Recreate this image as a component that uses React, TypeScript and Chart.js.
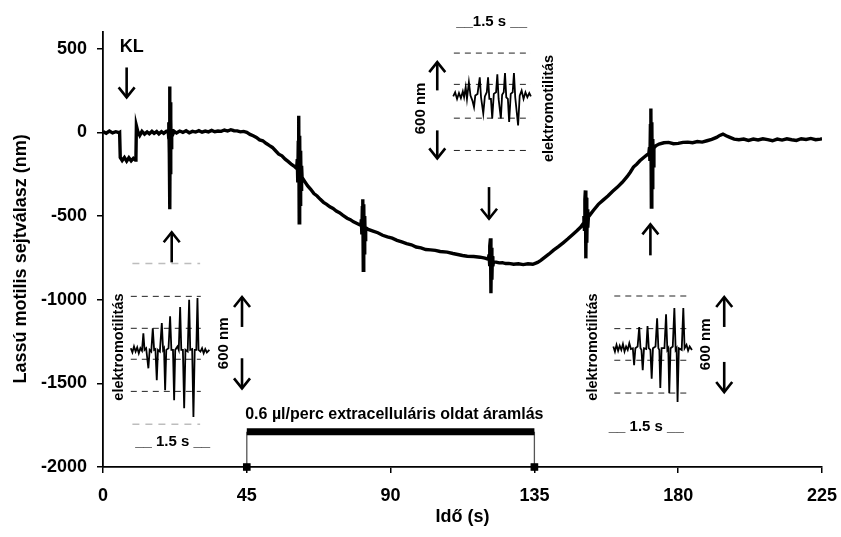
import React, { useEffect, useRef } from "react";
import { Chart, registerables } from "chart.js";

Chart.register(...registerables);

const FONT = '"Liberation Sans", Arial, Helvetica, sans-serif';

// Axis ticks and titles
const xTickValues = [0, 45, 90, 135, 180, 225];
const yTickValues = [-2000, -1500, -1000, -500, 0, 500];
const xTitle = "Idő (s)";
const yTitle = "Lassú motilis sejtválasz (nm)";

// Main slow-motility trace: [time (s), displacement (nm)]
const mainTrace: [number, number][] = [
  [0, 5], [1, -5], [2, 8], [3, -3], [4, 4], [5, -2], [5.2, 0], [5.4, -150],
  [6, -168], [6.7, -150], [7.4, -172], [8.1, -152], [8.8, -170], [9.5, -155], [10.1, -165], [10.3, -158],
  [10.45, 40], [10.9, 5], [11.5, -18], [12.2, 6], [13, -10], [13.8, 3], [14.5, -8], [15.3, 6],
  [16, -6], [16.8, 5], [17.5, -9], [18.3, 4], [19, -6], [19.8, 6],
  [20.4, 10], [20.55, -40], [20.65, 60], [20.75, -120], [20.85, 275], [20.95, -460], [21.05, 180],
  [21.15, -250], [21.25, 80], [21.35, -90], [21.5, 20], [21.65, -20],
  [22.3, 6], [23, -4], [24, 8], [25, 0], [26, 10], [27, -2], [28, 6], [29, 2], [30, 10], [31, 1],
  [32, 8], [33, 3], [34, 12], [35, 4], [36, 8], [37, 6], [38, 14], [39, 8], [40, 16], [41, 10],
  [42, 9], [43, 3], [44, 6], [45, 0], [46, -12], [47, -20], [48, -30], [49, -45], [50, -50],
  [51, -65], [52, -78], [53, -90], [54, -110], [55, -130], [56, -140], [57, -160], [58, -175],
  [59, -192], [60, -205],
  [60.6, -215], [60.8, -160], [60.95, -300], [61.1, -60], [61.25, 100], [61.4, -540], [61.55, -20],
  [61.7, -430], [61.85, -110], [62.0, -340], [62.15, -200], [62.3, -270],
  [63, -290], [64, -318], [65, -340], [66, -366], [67, -380], [68, -400], [69, -418], [70, -430],
  [71, -445], [72, -455], [73, -470], [74, -480], [75, -495], [76.4, -513], [77.4, -522],
  [78.4, -535], [79.5, -545],
  [80.7, -556], [80.85, -520], [81.0, -610], [81.15, -450], [81.3, -400], [81.45, -824], [81.6, -430],
  [81.75, -720], [81.9, -500], [82.05, -640], [82.2, -570],
  [83, -580], [84.5, -590], [86, -600], [87.5, -615], [89, -625], [90.5, -632], [92, -645],
  [93.5, -655], [95, -665], [96.5, -672], [98, -685], [99.5, -690], [101, -700], [102.5, -702],
  [104, -705], [105.5, -712], [107.7, -716], [109.5, -724], [111, -730], [112.5, -736], [114, -740],
  [116, -742], [118, -746], [119.5, -752],
  [120.6, -758], [120.8, -730], [120.95, -800], [121.1, -680], [121.25, -633], [121.4, -961],
  [121.55, -690], [121.7, -880], [121.85, -740], [122.0, -800], [122.2, -772],
  [123, -775], [124, -780], [125, -779], [126, -784], [127, -783], [128.5, -788], [130, -785],
  [131.5, -790], [133, -785], [134.5, -788], [136, -777], [137, -765], [138, -750], [139.5, -728],
  [141, -704], [142.5, -683], [144, -660], [145.5, -636], [147, -610], [148.3, -588], [149.5, -566],
  [150.3, -545], [150.5, -500], [150.65, -580], [150.8, -400], [150.95, -347], [151.1, -753],
  [151.25, -390], [151.4, -660], [151.55, -460], [151.7, -570], [151.9, -505],
  [152.5, -490], [153.5, -465], [155, -430], [156.5, -405], [158, -380], [159.5, -352], [161, -327],
  [162.5, -298], [164, -265], [165, -238], [166, -207], [167, -190], [168, -170], [169.2, -150],
  [170.2, -135],
  [170.8, -128], [171.0, -90], [171.15, -170], [171.3, 40], [171.45, 143], [171.6, -447],
  [171.75, 60], [171.9, -330], [172.05, -40], [172.2, -200], [172.4, -95],
  [173, -80], [174, -70], [175.5, -62], [177, -60], [178.5, -68], [180, -66], [181.5, -60],
  [183, -58], [184.5, -62], [186, -55], [187.5, -58], [189, -50], [190.5, -42], [192, -30],
  [193, -18], [194, -10], [195, -20], [196, -28], [197.5, -40], [199, -44], [200.5, -40],
  [202, -48], [203.5, -40], [205, -45], [206.5, -38], [208, -43], [209.5, -50], [211, -40],
  [212.5, -46], [214, -38], [215.5, -44], [217, -48], [218.5, -38], [220, -42], [221.5, -36],
  [223, -44], [224.5, -40], [225, -38],
];

// Inset recordings (electromotility), placed in the chart's own units
const insetLeft: [number, number][] = [
  [8.7, -1290], [9.2, -1315], [9.7, -1280], [10.2, -1310], [10.7, -1285], [11.2, -1320], [11.7, -1290],
  [12.2, -1305], [12.63, -1201], [13.0, -1300], [13.5, -1290], [14.2, -1410], [14.6, -1300],
  [15.1, -1310], [15.58, -1171], [16.0, -1300], [16.4, -1295], [16.83, -1482], [17.2, -1300],
  [17.8, -1310], [18.4, -1139], [18.8, -1300], [19.1, -1290], [19.44, -1541], [19.8, -1300],
  [20.5, -1290], [21.0, -1099], [21.4, -1300], [21.9, -1300], [22.26, -1601], [22.6, -1300],
  [23.3, -1280], [23.7, -1300], [24.14, -1044], [24.5, -1300], [25.0, -1300], [25.4, -1649],
  [25.8, -1300], [26.5, -1310], [26.96, -1000], [27.3, -1300], [27.9, -1295], [28.3, -1701],
  [28.7, -1300], [29.2, -1300], [29.56, -990], [29.9, -1300], [30.5, -1310], [31, -1290],
  [31.5, -1320], [32, -1295], [32.5, -1315], [33.3, -1300],
];
const insetTop: [number, number][] = [
  [109.6, 215], [110.2, 240], [110.8, 200], [111.4, 235], [112, 205], [112.6, 245], [113.0, 210],
  [113.5, 270], [113.9, 200], [114.5, 300], [115, 220], [115.6, 190], [116.1, 151], [116.5, 220],
  [117.2, 230], [117.9, 329], [118.3, 210], [119.0, 113], [119.5, 215], [120.1, 240], [120.5, 329],
  [120.9, 200], [121.4, 200], [121.8, 84], [122.3, 230], [123.0, 240], [123.4, 347], [123.8, 200],
  [124.5, 84], [124.9, 225], [125.4, 240], [125.8, 354], [126.2, 210], [126.7, 200], [127.1, 62],
  [127.6, 230], [128.2, 240], [128.6, 354], [129.0, 210], [129.9, 42], [130.4, 220], [131, 250],
  [131.6, 200], [132.2, 240], [132.8, 210], [133.4, 235], [133.9, 215],
];
const insetRight: [number, number][] = [
  [159.7, -1280], [160.2, -1310], [160.7, -1270], [161.2, -1305], [161.7, -1275], [162.2, -1300],
  [162.7, -1265], [163.2, -1310], [163.7, -1280], [164.2, -1300], [164.7, -1260], [165.2, -1295],
  [165.8, -1290], [166.2, -1392], [166.6, -1290], [167.3, -1280], [167.8, -1163], [168.2, -1290],
  [168.5, -1300], [168.9, -1422], [169.3, -1290], [170.0, -1295], [170.4, -1157], [170.8, -1290],
  [171.3, -1300], [171.7, -1472], [172.1, -1290], [172.9, -1280], [173.4, -1111], [173.8, -1290],
  [174.1, -1300], [174.4, -1528], [174.8, -1290], [175.7, -1290], [176.2, -1087], [176.6, -1300],
  [176.9, -1290], [177.2, -1559], [177.6, -1290], [178.3, -1280], [178.8, -1050], [179.2, -1300],
  [179.5, -1290], [179.8, -1611], [180.2, -1290], [181.1, -1300], [181.6, -1050], [182, -1290],
  [182.6, -1270], [183.1, -1305], [183.6, -1280], [184.3, -1300],
];

// Inset reference (dashed) levels and their time spans
const leftLevels = [-980, -1171, -1356, -1548];
const leftSpan = [8.7, 30.6];
const leftGreyLevels = [-783, -1745];
const leftGreySpan = [9.2, 30.4];
const topLevels = [474, 287, 85, -108];
const topSpan = [109.8, 133.9];
const rightLevels = [-978, -1173, -1362, -1558];
const rightSpan = [160, 184];

// Perfusion period
const flowStart = 45;
const flowEnd = 135;
const flowLevel = -1790;
const flowLabel = "0.6 \u00b5l/perc extracelluláris oldat áramlás";

const pts = (arr: [number, number][]) => arr.map(([x, y]) => ({ x, y }));

const hLine = (level: number, span: number[], color: string, width: number, dash: number[]) => ({
  data: [{ x: span[0], y: level }, { x: span[1], y: level }],
  borderColor: color,
  borderWidth: width,
  borderDash: dash,
  pointRadius: 0,
  fill: false,
  tension: 0,
  order: 5,
});

const annotations = {
  id: "annotations",
  afterDraw(chart: any) {
    const ctx = chart.ctx as CanvasRenderingContext2D;
    const X = (t: number) => chart.scales.x.getPixelForValue(t);
    const Y = (v: number) => chart.scales.y.getPixelForValue(v);
    ctx.save();
    ctx.fillStyle = "#000";
    ctx.strokeStyle = "#000";

    const arrow = (t: number, vTail: number, vTip: number) => {
      const x = X(t), yTail = Y(vTail), yTip = Y(vTip);
      ctx.lineWidth = 2.6;
      ctx.lineCap = "butt";
      ctx.beginPath();
      ctx.moveTo(x, yTail);
      ctx.lineTo(x, yTip);
      ctx.stroke();
      const dir = yTip > yTail ? -1 : 1;
      ctx.lineJoin = "miter";
      ctx.beginPath();
      ctx.moveTo(x - 8, yTip + dir * 10);
      ctx.lineTo(x, yTip);
      ctx.lineTo(x + 8, yTip + dir * 10);
      ctx.stroke();
    };
    const textAt = (s: string, x: number, y: number, size: number, rot = false, align: CanvasTextAlign = "center", base: CanvasTextBaseline = "middle") => {
      ctx.save();
      ctx.font = `bold ${size}px ${FONT}`;
      ctx.textAlign = align;
      ctx.textBaseline = base;
      ctx.translate(x, y);
      if (rot) ctx.rotate(-Math.PI / 2);
      ctx.fillText(s, 0, 0);
      ctx.restore();
    };
    const text = (s: string, t: number, v: number, size: number, rot = false, align: CanvasTextAlign = "center", base: CanvasTextBaseline = "middle") =>
      textAt(s, X(t), Y(v), size, rot, align, base);

    // y-axis title, centred on the labelled span of the axis
    textAt(yTitle, 26, (Y(-2000) + Y(500)) / 2 + 1, 18, true, "center", "alphabetic");

    text("KL", 9.0, 508, 18);
    arrow(7.4, 388, 209);
    arrow(21.5, -777, -597);
    arrow(120.8, -327, -516);
    arrow(171.3, -735, -550);

    // top inset
    arrow(104.6, 251, 420);
    arrow(104.6, 12, -155);
    text("600 nm", 99.6, 143, 15, true);
    text("elektromotilitás", 139.7, 143, 14.5, true);
    text("__1.5 s __", 121.6, 659, 15);

    // left inset
    arrow(43.5, -1163, -984);
    arrow(43.5, -1350, -1530);
    text("600 nm", 37.9, -1261, 15, true);
    text("elektromotilitás", 5.0, -1283, 14.5, true);
    text("__ 1.5 s __", 21.8, -1850, 15);

    // right inset
    arrow(194.4, -1163, -984);
    arrow(194.4, -1372, -1552);
    text("600 nm", 188.7, -1267, 15, true);
    text("elektromotilitás", 153.2, -1283, 14.5, true);
    text("__ 1.5 s __", 170.0, -1761, 15);

    text(flowLabel, 44.5, -1715, 16, false, "left", "alphabetic");
    ctx.restore();
  },
};

export default function App() {
  const ref = useRef<HTMLCanvasElement | null>(null);

  useEffect(() => {
    if (!ref.current) return;
    const tickFont = { family: FONT, size: 18, weight: "bold" as const };
    const datasets: any[] = [
      {
        data: pts(mainTrace),
        borderColor: "#000",
        borderWidth: 3.4,
        pointRadius: 0,
        fill: false,
        tension: 0,
        order: 0,
      },
      { data: pts(insetLeft), borderColor: "#000", borderWidth: 1.8, pointRadius: 0, fill: false, tension: 0, order: 1 },
      { data: pts(insetTop), borderColor: "#000", borderWidth: 1.8, pointRadius: 0, fill: false, tension: 0, order: 1 },
      { data: pts(insetRight), borderColor: "#000", borderWidth: 1.8, pointRadius: 0, fill: false, tension: 0, order: 1 },
      ...leftLevels.map((l) => hLine(l, leftSpan, "#222", 1, [6, 5])),
      ...leftGreyLevels.map((l) => hLine(l, leftGreySpan, "#bdbdbd", 1.5, [7, 6])),
      ...topLevels.map((l) => hLine(l, topSpan, "#222", 1, [6, 5])),
      ...rightLevels.map((l) => hLine(l, rightSpan, "#222", 1, [6, 5])),
      {
        data: [{ x: flowStart, y: flowLevel }, { x: flowEnd, y: flowLevel }],
        borderColor: "#000",
        borderWidth: 7,
        borderCapStyle: "butt",
        pointRadius: 0,
        fill: false,
        order: 2,
      },
      ...[flowStart, flowEnd].map((t) => ({
        data: [{ x: t, y: flowLevel }, { x: t, y: -2000 }],
        borderColor: "#555",
        borderWidth: 1.3,
        pointRadius: [0, 4.5],
        pointStyle: "rect",
        pointBackgroundColor: "#000",
        pointBorderColor: "#000",
        fill: false,
        clip: false,
        order: 3,
      })),
    ];

    const chart = new Chart(ref.current, {
      type: "line",
      data: { datasets },
      options: {
        animation: false,
        responsive: false,
        layout: { padding: { top: 32, right: 19, left: 0, bottom: 0 } },
        plugins: { legend: { display: false }, tooltip: { enabled: false } },
        scales: {
          x: {
            type: "linear",
            min: 0,
            max: 225,
            afterFit: (s: any) => {
              s.height = 70;
              s.paddingLeft = 0;
              s.paddingRight = 0;
            },
            afterBuildTicks: (s: any) => {
              s.ticks = xTickValues.map((v) => ({ value: v }));
            },
            ticks: {
              font: tickFont,
              color: "#000",
              padding: 12,
              maxRotation: 0,
              autoSkip: false,
              callback: (v: any) => String(v),
            },
            grid: { drawOnChartArea: false, drawTicks: true, tickLength: 6, color: "#000", lineWidth: 1.5 },
            border: { color: "#000", width: 1.8 },
            title: {
              display: true,
              text: xTitle,
              font: tickFont,
              color: "#000",
              padding: { top: 0, bottom: 9 },
            },
          },
          y: {
            type: "linear",
            min: -2000,
            max: 600,
            afterFit: (s: any) => {
              s.width = 103;
              s.paddingTop = 0;
              s.paddingBottom = 0;
            },
            afterBuildTicks: (s: any) => {
              s.ticks = yTickValues.map((v) => ({ value: v }));
            },
            ticks: {
              font: tickFont,
              color: "#000",
              padding: 10,
              autoSkip: false,
              callback: (v: any) => String(v),
            },
            grid: { drawOnChartArea: false, drawTicks: true, tickLength: 6, color: "#000", lineWidth: 1.5 },
            border: { color: "#000", width: 1.8 },
            title: { display: false },
          },
        },
      },
      plugins: [annotations],
    });
    return () => chart.destroy();
  }, []);

  return (
    <div style={{ position: "absolute", left: 0, top: 0, width: 841, height: 537, background: "#fff" }}>
      <canvas ref={ref} width={841} height={537} style={{ width: 841, height: 537, display: "block" }} />
    </div>
  );
}
